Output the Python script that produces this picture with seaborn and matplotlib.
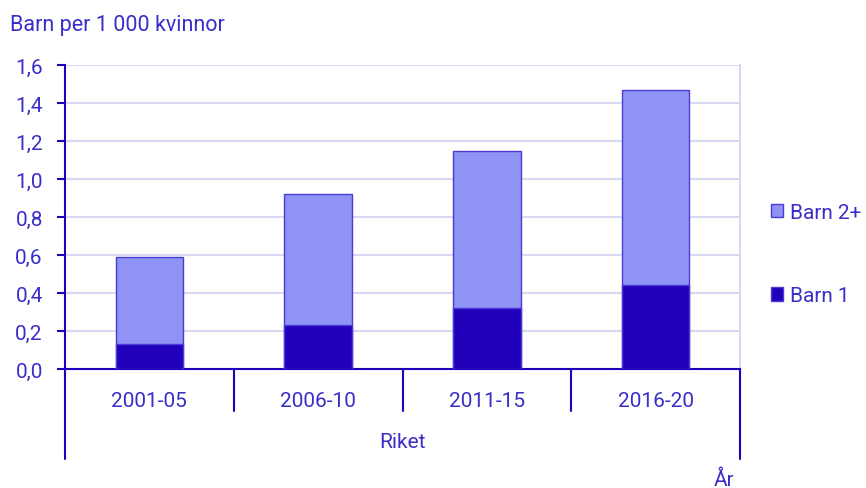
import pandas as pd
import matplotlib.pyplot as plt
import matplotlib.patches as mpatches
import seaborn as sns

# values
periods = ["2001-05", "2006-10", "2011-15", "2016-20"]
barn1 = [0.13, 0.23, 0.32, 0.44]
barn2 = [0.46, 0.69, 0.83, 1.03]
yticks = [0.0, 0.2, 0.4, 0.6, 0.8, 1.0, 1.2, 1.4, 1.6]

data = pd.DataFrame({"period": periods, "barn1": barn1, "barn2": barn2})
data["total"] = data["barn1"] + data["barn2"]

dark = "#2200bb"
light = "#8f93f3"
edge = "#4a3ad8"
text_col = "#3a2ec8"
grid_col = "#d8d8f2"

sns.set_style("white")
plt.rcParams["font.family"] = ["Roboto", "DejaVu Sans"]
plt.rcParams["font.size"] = 15

fig = plt.figure(figsize=(8.66, 4.89), dpi=100)
ax = fig.add_axes([65 / 866, 1 - 370 / 489, 675 / 866, 304 / 489])

# stacked bars: total first, then Barn 1 on top of it
sns.barplot(data=data, x="period", y="total", color=light, saturation=1,
            width=0.4, edgecolor=edge, linewidth=1, ax=ax, zorder=3)
sns.barplot(data=data, x="period", y="barn1", color=dark, saturation=1,
            width=0.4, edgecolor=edge, linewidth=1, ax=ax, zorder=4)

ax.set_xlim(-0.5, 3.5)
ax.set_ylim(0, 1.6)
ax.set_yticks(yticks)
ax.set_yticklabels([f"{v:.1f}".replace(".", ",") for v in yticks], color=text_col)
ax.set_xticks([])
ax.set_xlabel("")
ax.set_ylabel("")
ax.grid(axis="y", color=grid_col, linewidth=1.5, zorder=0)
ax.set_axisbelow(True)

ax.spines["top"].set_visible(False)
ax.spines["right"].set_color(grid_col)
ax.spines["right"].set_linewidth(1.5)
ax.spines["left"].set_color(dark)
ax.spines["left"].set_linewidth(1.5)
ax.spines["bottom"].set_color(dark)
ax.spines["bottom"].set_linewidth(1.5)
ax.tick_params(axis="y", length=6, width=1.5, color=dark, pad=10, left=True)

# category separators and labels below the axis
tr = ax.get_xaxis_transform()
for x in [-0.5, 0.5, 1.5, 2.5, 3.5]:
    low = -0.296 if x in (-0.5, 3.5) else -0.138
    ax.plot([x, x], [0, low], transform=tr, color=dark, linewidth=1.5, clip_on=False)
for i, p in enumerate(periods):
    ax.text(i, -0.102, p, transform=tr, ha="center", va="center", color=text_col)
ax.text(1.5, -0.24, "Riket", transform=tr, ha="center", va="center", color=text_col)

fig.text(10 / 866, 1 - 25 / 489, "Barn per 1 000 kvinnor", ha="left", va="center",
         color=text_col, fontsize=15.5)
fig.text(724 / 866, 1 - 480 / 489, "År", ha="center", va="center", color=text_col)

handles = [mpatches.Patch(facecolor=light, edgecolor=edge, label="Barn 2+"),
           mpatches.Patch(facecolor=dark, edgecolor=edge, label="Barn 1")]
leg = fig.legend(handles=handles, loc="center left", bbox_to_anchor=(756 / 866, 1 - 255 / 489),
                 frameon=False, labelspacing=3.1, handlelength=0.6, handleheight=0.6,
                 handletextpad=0.35, borderpad=0.2)
for t in leg.get_texts():
    t.set_color(text_col)

fig.savefig("out.png", dpi=100)
